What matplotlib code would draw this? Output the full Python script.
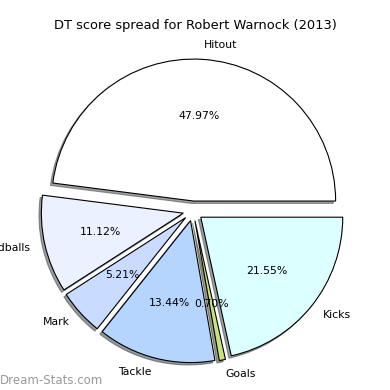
import matplotlib
matplotlib.use("Agg")
import matplotlib.pyplot as plt

# DT score spread data
labels = ["Hitout", "Handballs", "Mark", "Tackle", "Goals", "Kicks"]
values = [47.97, 11.12, 5.21, 13.44, 0.70, 21.55]
colors = ["#ffffff", "#ebf1ff", "#c9dbff", "#b5d5ff", "#c8e27e", "#dcffff"]
title = "DT score spread for Robert Warnock (2013)"

fig = plt.figure(figsize=(3.9, 3.9), dpi=100)
ax = fig.add_axes([0, 0, 1, 1])

wedges, texts, autotexts = ax.pie(
    values,
    labels=labels,
    colors=colors,
    explode=[0.07] * len(values),
    autopct="%1.2f%%",
    shadow={"ox": -0.012, "oy": -0.012, "shade": 0.75},
    startangle=0,
    wedgeprops={"edgecolor": "black", "linewidth": 0.8},
    textprops={"fontsize": 7.8},
)

ax.set_aspect("equal")
ax.set_xlim(-1.359, 1.387)
ax.set_ylim(-1.261, 1.486)
ax.axis("off")

fig.text(0.5, 0.935, title, ha="center", va="center", fontsize=9.4)
fig.text(0.0, 0.025, "Dream-Stats.com", ha="left", va="center",
         fontsize=8.5, color="#999999")

fig.savefig("out.png", dpi=100)
